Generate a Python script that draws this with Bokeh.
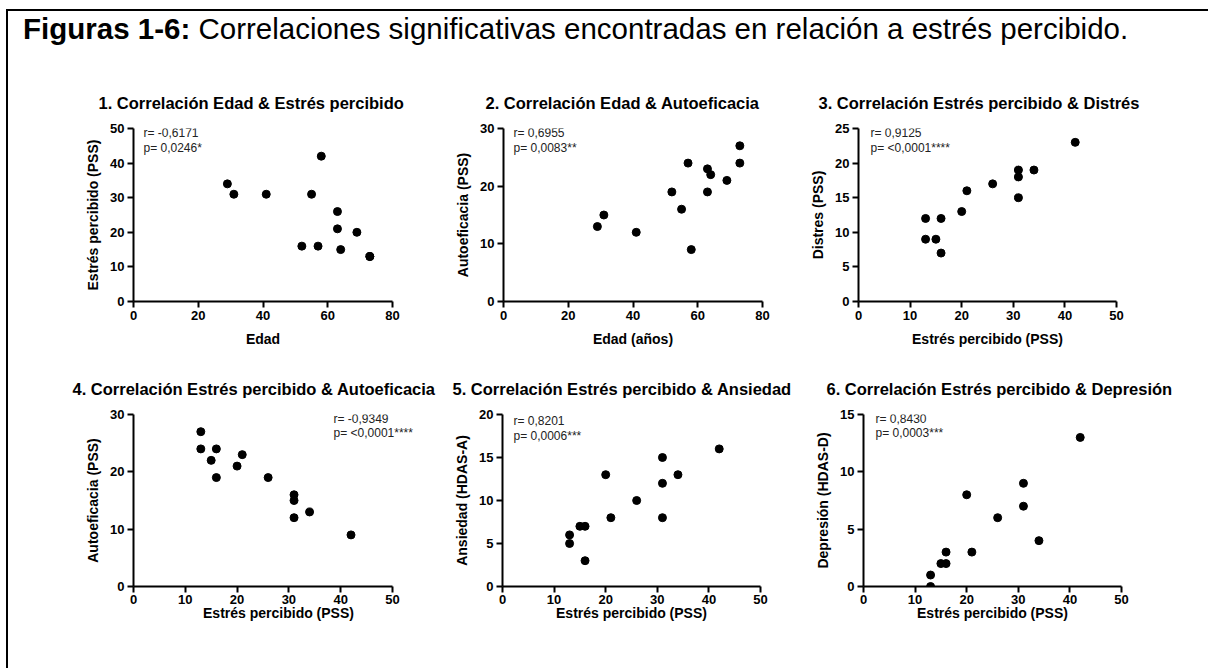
from bokeh.plotting import figure
from bokeh.models import Label, Div, FixedTicker, Range1d
from bokeh.layouts import row, column
from bokeh.embed import file_html
from bokeh.resources import INLINE

FONT = "Liberation Sans"

# ---------------- data ----------------
edad = [29, 31, 41, 52, 55, 57, 58, 63, 63, 64, 69, 73, 73]
estres_por_edad = [34, 31, 31, 16, 31, 16, 42, 26, 21, 15, 20, 13, 13]
autoeficacia_por_edad = [13, 15, 12, 19, 16, 24, 9, 23, 19, 22, 21, 27, 24]

estres = [13, 13, 15, 16, 16, 20, 21, 26, 31, 31, 31, 34, 42]
distres = [12, 9, 9, 12, 7, 13, 16, 17, 19, 18, 15, 19, 23]
autoeficacia = [27, 24, 22, 24, 19, 21, 23, 19, 16, 15, 12, 13, 9]
ansiedad = [6, 5, 7, 7, 3, 13, 8, 10, 15, 12, 8, 13, 16]

estres6 = [13, 13, 15, 16, 16, 20, 21, 26, 31, 31, 34, 42]
depresion = [1, 0, 2, 2, 3, 8, 3, 6, 9, 7, 4, 13]

titulos = [
    "1. Correlación Edad & Estrés percibido",
    "2. Correlación Edad & Autoeficacia",
    "3. Correlación Estrés percibido & Distrés",
    "4. Correlación Estrés percibido & Autoeficacia",
    "5. Correlación Estrés percibido & Ansiedad",
    "6. Correlación Estrés percibido & Depresión",
]
x_labels = ["Edad", "Edad (años)", "Estrés percibido (PSS)",
            "Estrés percibido (PSS)", "Estrés percibido (PSS)", "Estrés percibido (PSS)"]
y_labels = ["Estrés percibido (PSS)", "Autoeficacia (PSS)", "Distres (PSS)",
            "Autoeficacia (PSS)", "Ansiedad (HDAS-A)", "Depresión (HDAS-D)"]
r_vals = ["r= -0,6171", "r= 0,6955", "r= 0,9125", "r= -0,9349", "r= 0,8201", "r= 0,8430"]
p_vals = ["p= 0,0246*", "p= 0,0083**", "p= <0,0001****", "p= <0,0001****",
          "p= 0,0006***", "p= 0,0003***"]
x_ticks = [[0, 20, 40, 60, 80], [0, 20, 40, 60, 80], [0, 10, 20, 30, 40, 50],
           [0, 10, 20, 30, 40, 50], [0, 10, 20, 30, 40, 50], [0, 10, 20, 30, 40, 50]]
y_ticks = [[0, 10, 20, 30, 40, 50], [0, 10, 20, 30], [0, 5, 10, 15, 20, 25],
           [0, 10, 20, 30], [0, 5, 10, 15, 20], [0, 5, 10, 15]]
series = [(edad, estres_por_edad), (edad, autoeficacia_por_edad), (estres, distres),
          (estres, autoeficacia), (estres, ansiedad), (estres6, depresion)]

# ---------------- layout (styles) ----------------
# (width, height, border_left, border_right, border_top, border_bottom)
geom = [
    (414, 284, 125, 30, 57, 54),
    (370, 284, 81, 30, 57, 54),
    (398, 284, 66, 74, 57, 54),
    (434, 285, 125, 19, 59, 54),
    (358, 285, 60, 40, 59, 54),
    (390, 285, 63, 69, 59, 54),
]
# extra visible room to the right of the last x tick (panel 4 text overflows the axis)
x_extra = [0, 0, 0, 6, 0, 0]
# title left offset relative to frame left
title_off = [-35, -18, -40, -61, -50, -37]
# annotation anchor: (x_offset px, y_offset line1, y_offset line2)
ann = [
    (10, -4, -19),
    (10, -4, -19),
    (12, -4, -19),
    (200, -4, -18),
    (11, -6, -21),
    (12, -4, -18),
]
row_label_standoff = [8, 8, 8, -2, -2, -2]
row_tick_standoff = [3, 3, 3, 2, 2, 2]


def make_panel(i):
    w, h, bl, br, bt, bb = geom[i]
    xs, ys = series[i]
    xt, yt = x_ticks[i], y_ticks[i]
    p = figure(width=w, height=h, output_backend="svg", toolbar_location=None,
               x_range=Range1d(xt[0], xt[-1] + x_extra[i]), y_range=Range1d(yt[0], yt[-1]),
               min_border_left=bl, min_border_right=br, min_border_top=bt,
               min_border_bottom=bb, title=titulos[i])
    p.outline_line_color = None
    p.background_fill_color = "white"
    p.border_fill_color = "white"
    p.xgrid.visible = False
    p.ygrid.visible = False
    p.title.align = "left"
    p.title.offset = title_off[i]
    p.title.text_font = FONT
    p.title.text_font_size = "16.5px"
    p.title.text_font_style = "bold"
    p.title.text_color = "black"
    p.title.standoff = 34

    p.xaxis.ticker = FixedTicker(ticks=xt)
    p.yaxis.ticker = FixedTicker(ticks=yt)
    p.xaxis.bounds = (xt[0], xt[-1])
    p.xaxis.axis_label = x_labels[i]
    p.yaxis.axis_label = y_labels[i]
    for ax in (p.xaxis[0], p.yaxis[0]):
        ax.axis_line_width = 2
        ax.axis_line_color = "black"
        ax.major_tick_line_width = 2
        ax.major_tick_line_color = "black"
        ax.major_tick_out = 6
        ax.major_tick_in = 0
        ax.minor_tick_line_color = None
        ax.major_label_text_font = FONT
        ax.major_label_text_font_style = "bold"
        ax.major_label_text_font_size = "13px"
        ax.major_label_text_color = "black"
        ax.major_label_standoff = 3
        ax.axis_label_text_font = FONT
        ax.axis_label_text_font_style = "bold"
        ax.axis_label_text_font_size = "14px"
        ax.axis_label_text_color = "black"
        ax.axis_label_standoff = 6
    p.xaxis[0].axis_label_standoff = row_label_standoff[i]
    p.xaxis[0].major_label_standoff = row_tick_standoff[i]

    p.scatter(xs, ys, size=8, color="black")

    dx, dy1, dy2 = ann[i]
    for txt, dy in ((r_vals[i], dy1), (p_vals[i], dy2)):
        p.add_layout(Label(x=xt[0], y=yt[-1], x_offset=dx, y_offset=dy, text=txt,
                           text_font=FONT, text_font_size="12px", text_color="#222222",
                           text_baseline="middle", text_align="left"))
    return p


panels = [make_panel(i) for i in range(6)]

title_div = Div(
    text='<div style="padding:1px 0 0 15px; font-family:\'Liberation Sans\', Arial, sans-serif; '
         'font-size:29.5px; line-height:34px; color:black; white-space:nowrap;">'
         '<b>Figuras 1-6:</b> Correlaciones significativas encontradas en relación a estrés percibido.</div>',
    width=1180, height=60, margin=0)

top_line = Div(text="", width=1202, height=2, margin=0, styles={"background-color": "black"})
left_line = Div(text="", width=2, height=657, margin=0, styles={"background-color": "black"})

content = column(title_div, row(*panels[:3]), row(*panels[3:]))
layout = column(top_line, row(left_line, content), margin=(9, 0, 0, 6))

open("out.html", "w").write(file_html(layout, INLINE, title="Figuras 1-6"))
